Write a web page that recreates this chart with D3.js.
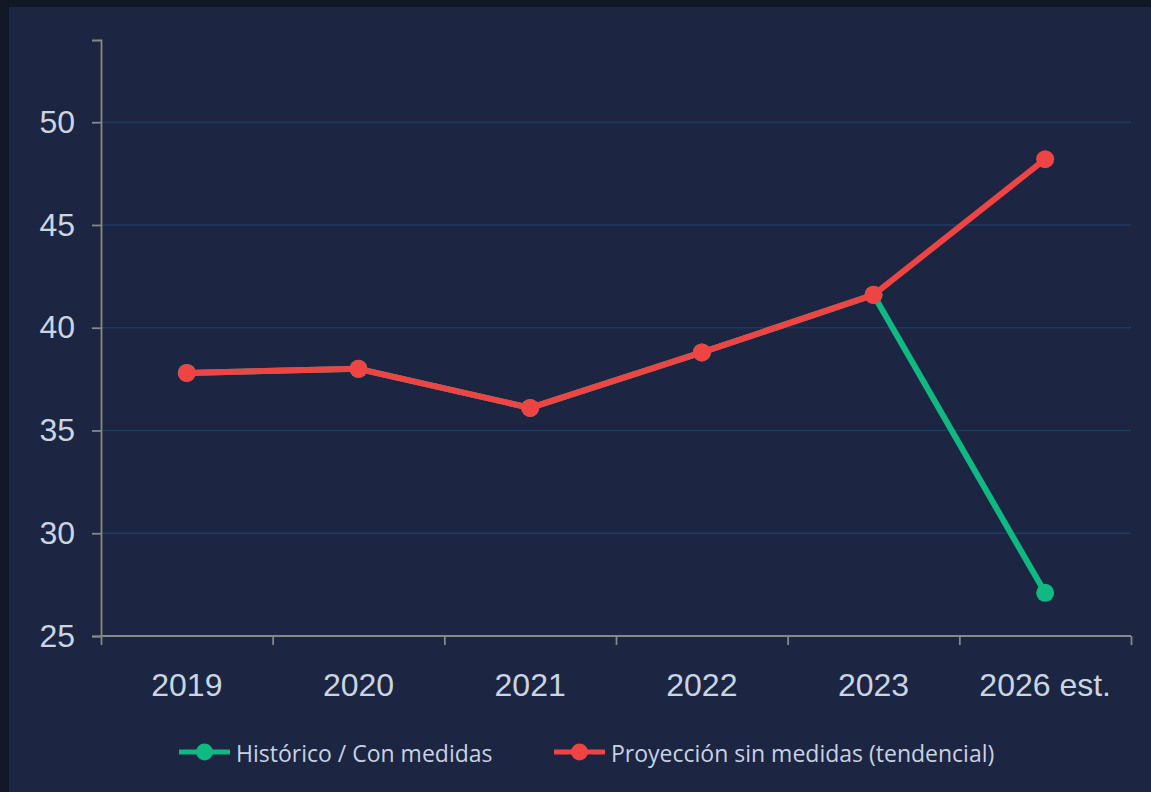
<!DOCTYPE html>
<html><head><meta charset="utf-8">
<script src="https://cdn.jsdelivr.net/npm/d3@7"></script>
<style>
html,body{margin:0;padding:0;background:#121826;}
svg{display:block;}
</style></head>
<body>
<svg id="chart" width="1151" height="792"></svg>
<script>
const categories = ["2019","2020","2021","2022","2023","2026 est."];
const historico = [37.8, 38.0, 36.1, 38.8, 41.6, 27.1];
const proyeccion = [37.8, 38.0, 36.1, 38.8, 41.6, 48.2];
const yTicks = [25,30,35,40,45,50];
const seriesNames = ["Histórico / Con medidas","Proyección sin medidas (tendencial)"];
const seriesColors = ["#10b981","#ef4444"];

(function(){
const svg = d3.select("#chart");
svg.append("rect").attr("x",9).attr("y",7).attr("width",1151-9).attr("height",792-7).attr("fill","#1c2541");

const pLeft=101,pRight=1131,pTop=40,pBottom=636;
const x = d3.scaleBand().domain(categories).range([pLeft,pRight]).padding(0);
const xEdge = d3.scaleLinear().domain([0,categories.length]).range([pLeft,pRight]);
const y = d3.scaleLinear().domain([25,54]).range([pBottom,pTop]);

// grid
svg.append("g").selectAll("line").data(yTicks.filter(d=>d>25)).join("line")
  .attr("x1",pLeft).attr("x2",pRight).attr("y1",d=>y(d)).attr("y2",d=>y(d))
  .attr("stroke","#1f3a60").attr("stroke-width",1.5);

// y axis
const yAx = svg.append("g").attr("transform",`translate(${pLeft},0)`)
  .call(d3.axisLeft(y).tickValues(yTicks).tickSize(9).tickPadding(17));
yAx.select(".domain").attr("stroke","#888").attr("stroke-width",1.8);
yAx.selectAll(".tick line").attr("stroke","#888").attr("stroke-width",1.8);
yAx.selectAll("text").attr("fill","#cbd5e1").style("font-family","'Liberation Sans',Arial,sans-serif").style("font-size","32px");

// x axis ticks at band edges
const xEdgeAx = svg.append("g").attr("transform",`translate(0,${pBottom})`)
  .call(d3.axisBottom(xEdge).tickValues(d3.range(categories.length+1)).tickSize(9).tickFormat(""));
xEdgeAx.select(".domain").attr("stroke","#888").attr("stroke-width",1.8).attr("d",`M${pLeft},0H${pRight}`);
xEdgeAx.selectAll(".tick line").attr("stroke","#888").attr("stroke-width",1.8);
const xAx = svg.append("g").attr("transform",`translate(0,${pBottom})`)
  .call(d3.axisBottom(x).tickSize(0).tickPadding(37));
xAx.select(".domain").remove();
xAx.selectAll("text").attr("fill","#cbd5e1").style("font-family","'Liberation Sans',Arial,sans-serif").style("font-size","32px");

const cx = d => x(d) + x.bandwidth()/2;
const line = d3.line().x((d,i)=>cx(categories[i])).y(d=>y(d));
[historico, proyeccion].forEach((s,k)=>{
  svg.append("path").datum(s).attr("d",line).attr("fill","none")
    .attr("stroke",seriesColors[k]).attr("stroke-width",6).attr("stroke-linejoin","round");
  svg.append("g").selectAll("circle").data(s).join("circle")
    .attr("cx",(d,i)=>cx(categories[i])).attr("cy",d=>y(d)).attr("r",9).attr("fill",seriesColors[k]);
});

// legend
const legX = [179, 554];
const legY = 752;
seriesNames.forEach((n,k)=>{
  const g = svg.append("g").attr("transform",`translate(${legX[k]},${legY})`);
  g.append("line").attr("x1",0).attr("x2",51).attr("stroke",seriesColors[k]).attr("stroke-width",5);
  g.append("circle").attr("cx",25.5).attr("r",8.5).attr("fill",seriesColors[k]);
  g.append("text").attr("x",57).attr("dy","0.42em").text(n).attr("fill","#c8d2e2")
    .style("font-family","'Open Sans',sans-serif").style("font-size","23px");
});
})();
</script>
</body></html>
